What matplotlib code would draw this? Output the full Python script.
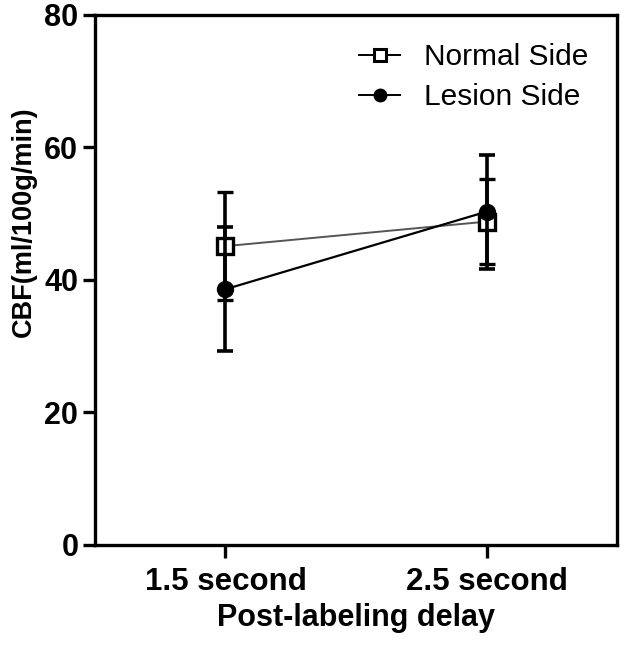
import matplotlib
matplotlib.use("Agg")
import matplotlib.pyplot as plt
from matplotlib.lines import Line2D

plt.rcParams["font.family"] = ["Liberation Sans", "DejaVu Sans"]

delays = ["1.5 second", "2.5 second"]
normal_mean = [45.1, 48.8]
normal_sd = [8.1, 6.4]
lesion_mean = [38.6, 50.3]
lesion_sd = [9.4, 8.6]

x = [1, 2]

fig = plt.figure(figsize=(6.29, 6.48), dpi=100)
ax = fig.add_axes([0.151, 0.159, 0.830, 0.818])

ax.errorbar(x, normal_mean, yerr=normal_sd, color="#555555", lw=1.4,
            marker="s", ms=12, mfc="white", mec="black", mew=2.4,
            ecolor="black", elinewidth=2.6, capsize=5.5, capthick=2.6,
            zorder=3)
ax.errorbar(x, lesion_mean, yerr=lesion_sd, color="black", lw=1.6,
            marker="o", ms=11.5, mfc="black", mec="black",
            ecolor="black", elinewidth=2.6, capsize=5.5, capthick=2.6,
            zorder=4)

handles = [
    Line2D([], [], color="black", lw=1.4, marker="s", ms=9, mfc="white",
           mec="black", mew=2.2),
    Line2D([], [], color="black", lw=1.4, marker="o", ms=9, mfc="black"),
]
ax.legend(handles, ["Normal Side", "Lesion Side"], loc="upper right",
          frameon=False, fontsize=21.5, handlelength=1.4, handletextpad=0.8,
          labelspacing=0.4, borderaxespad=0.55)

ax.set_xlim(0.5, 2.5)
ax.set_ylim(0, 80)
ax.set_xticks(x)
ax.set_xticklabels(delays)
ax.set_yticks([0, 20, 40, 60, 80])

for s in ax.spines.values():
    s.set_linewidth(2.4)
ax.tick_params(width=2.4, length=9, labelsize=22)
ax.tick_params(axis="x", pad=7, labelsize=22.5)
ax.tick_params(axis="y", pad=3)
for lab in ax.get_xticklabels() + ax.get_yticklabels():
    lab.set_fontweight("bold")

ax.set_xlabel("Post-labeling delay", fontsize=22, fontweight="bold",
              labelpad=4)
ax.set_ylabel("CBF(ml/100g/min)", fontsize=19.5, fontweight="bold")
ax.yaxis.set_label_coords(-0.111, 0.609)

fig.savefig("out.png", dpi=100)
